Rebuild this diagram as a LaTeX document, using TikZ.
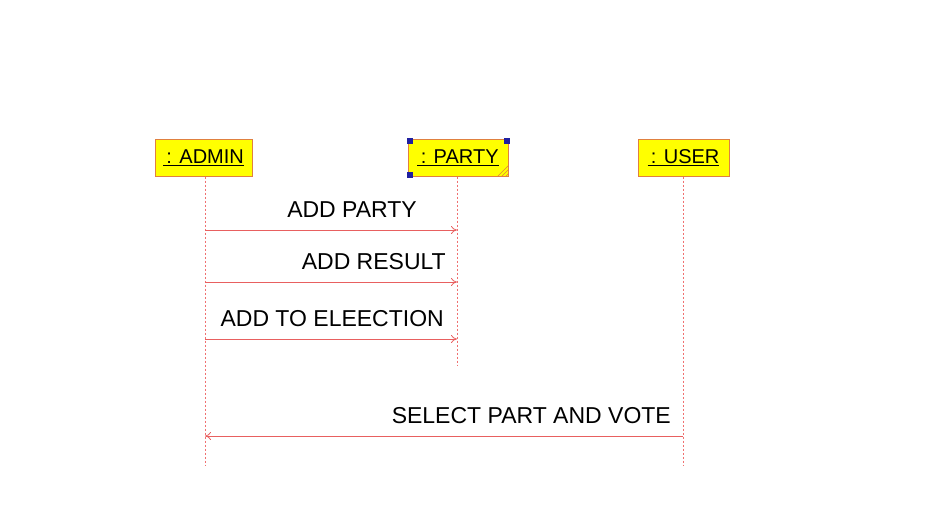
\documentclass[tikz,border=0pt]{standalone}
\usepackage{fontspec}
\setmainfont{Liberation Sans}
\usetikzlibrary{arrows.meta}
\definecolor{boxfill}{HTML}{FFFF00}
\definecolor{boxline}{HTML}{E08040}
\definecolor{lifered}{HTML}{E86060}
\definecolor{lifepink}{HTML}{F07070}
\definecolor{handle}{HTML}{2020A0}
\tikzset{
  x=1pt,y=-1pt,
  objbox/.style={draw=boxline,fill=boxfill,line width=1pt,minimum height=37pt,inner sep=0pt,font=\fontsize{20}{22}\selectfont},
  lifeline/.style={draw=lifepink,dash pattern=on 2pt off 2pt,line width=1pt},
  msg/.style={draw=lifered,line width=0.8pt,-{To[length=6pt,width=8pt]}},
  msglabel/.style={font=\fontsize{23}{25}\selectfont,inner sep=0pt,anchor=base east},
  hdl/.style={fill=handle,minimum size=6pt,inner sep=0pt}
}
\begin{document}
\begin{tikzpicture}
\useasboundingbox (0,0) rectangle (932,520);
% object boxes
\node[objbox,minimum width=97pt] (admin) at (203.5,157.5) {\underline{\,: ADMIN}};
\node[objbox,minimum width=100pt] (party) at (458,157.5) {\underline{\,: PARTY}};
\node[objbox,minimum width=91pt] (user) at (683.5,157.5) {\underline{\,: USER}};
% selection handles and hatch on PARTY
\node[hdl] (h1) at ([shift={(2pt,-2pt)}]party.north west) {};
\node[hdl] (h2) at ([shift={(-2pt,-2pt)}]party.north east) {};
\node[hdl] (h3) at ([shift={(2pt,2pt)}]party.south west) {};
\draw[boxline,line width=0.6pt] ([xshift=-11pt]party.south east) -- ([yshift=11pt]party.south east)
  ([xshift=-7pt]party.south east) -- ([yshift=7pt]party.south east)
  ([xshift=-3pt]party.south east) -- ([yshift=3pt]party.south east);
% lifeline ends
\coordinate (aend) at (205,465);
\coordinate (pend) at (457,365);
\coordinate (uend) at (683,465);
\draw[lifeline] (admin.south -| aend) -- (aend);
\draw[lifeline] (party.south -| pend) -- (pend);
\draw[lifeline] (user.south -| uend) -- (uend);
% message points
\coordinate (a1) at (205,230); \coordinate (p1) at (457,230);
\coordinate (a2) at (205,282); \coordinate (p2) at (457,282);
\coordinate (a3) at (205,339); \coordinate (p3) at (457,339);
\coordinate (u4) at (683,436); \coordinate (a4) at (205,436);
\draw[msg] (a1) -- (p1);
\draw[msg] (a2) -- (p2);
\draw[msg] (a3) -- (p3);
\draw[msg] (u4) -- (a4);
\node[msglabel] (l1) at (417,217) {ADD PARTY};
\node[msglabel] (l2) at (446,269) {ADD RESULT};
\node[msglabel] (l3) at (444,326) {ADD TO ELEECTION};
\node[msglabel] (l4) at (671,423) {SELECT PART AND VOTE};
\end{tikzpicture}
\end{document}
